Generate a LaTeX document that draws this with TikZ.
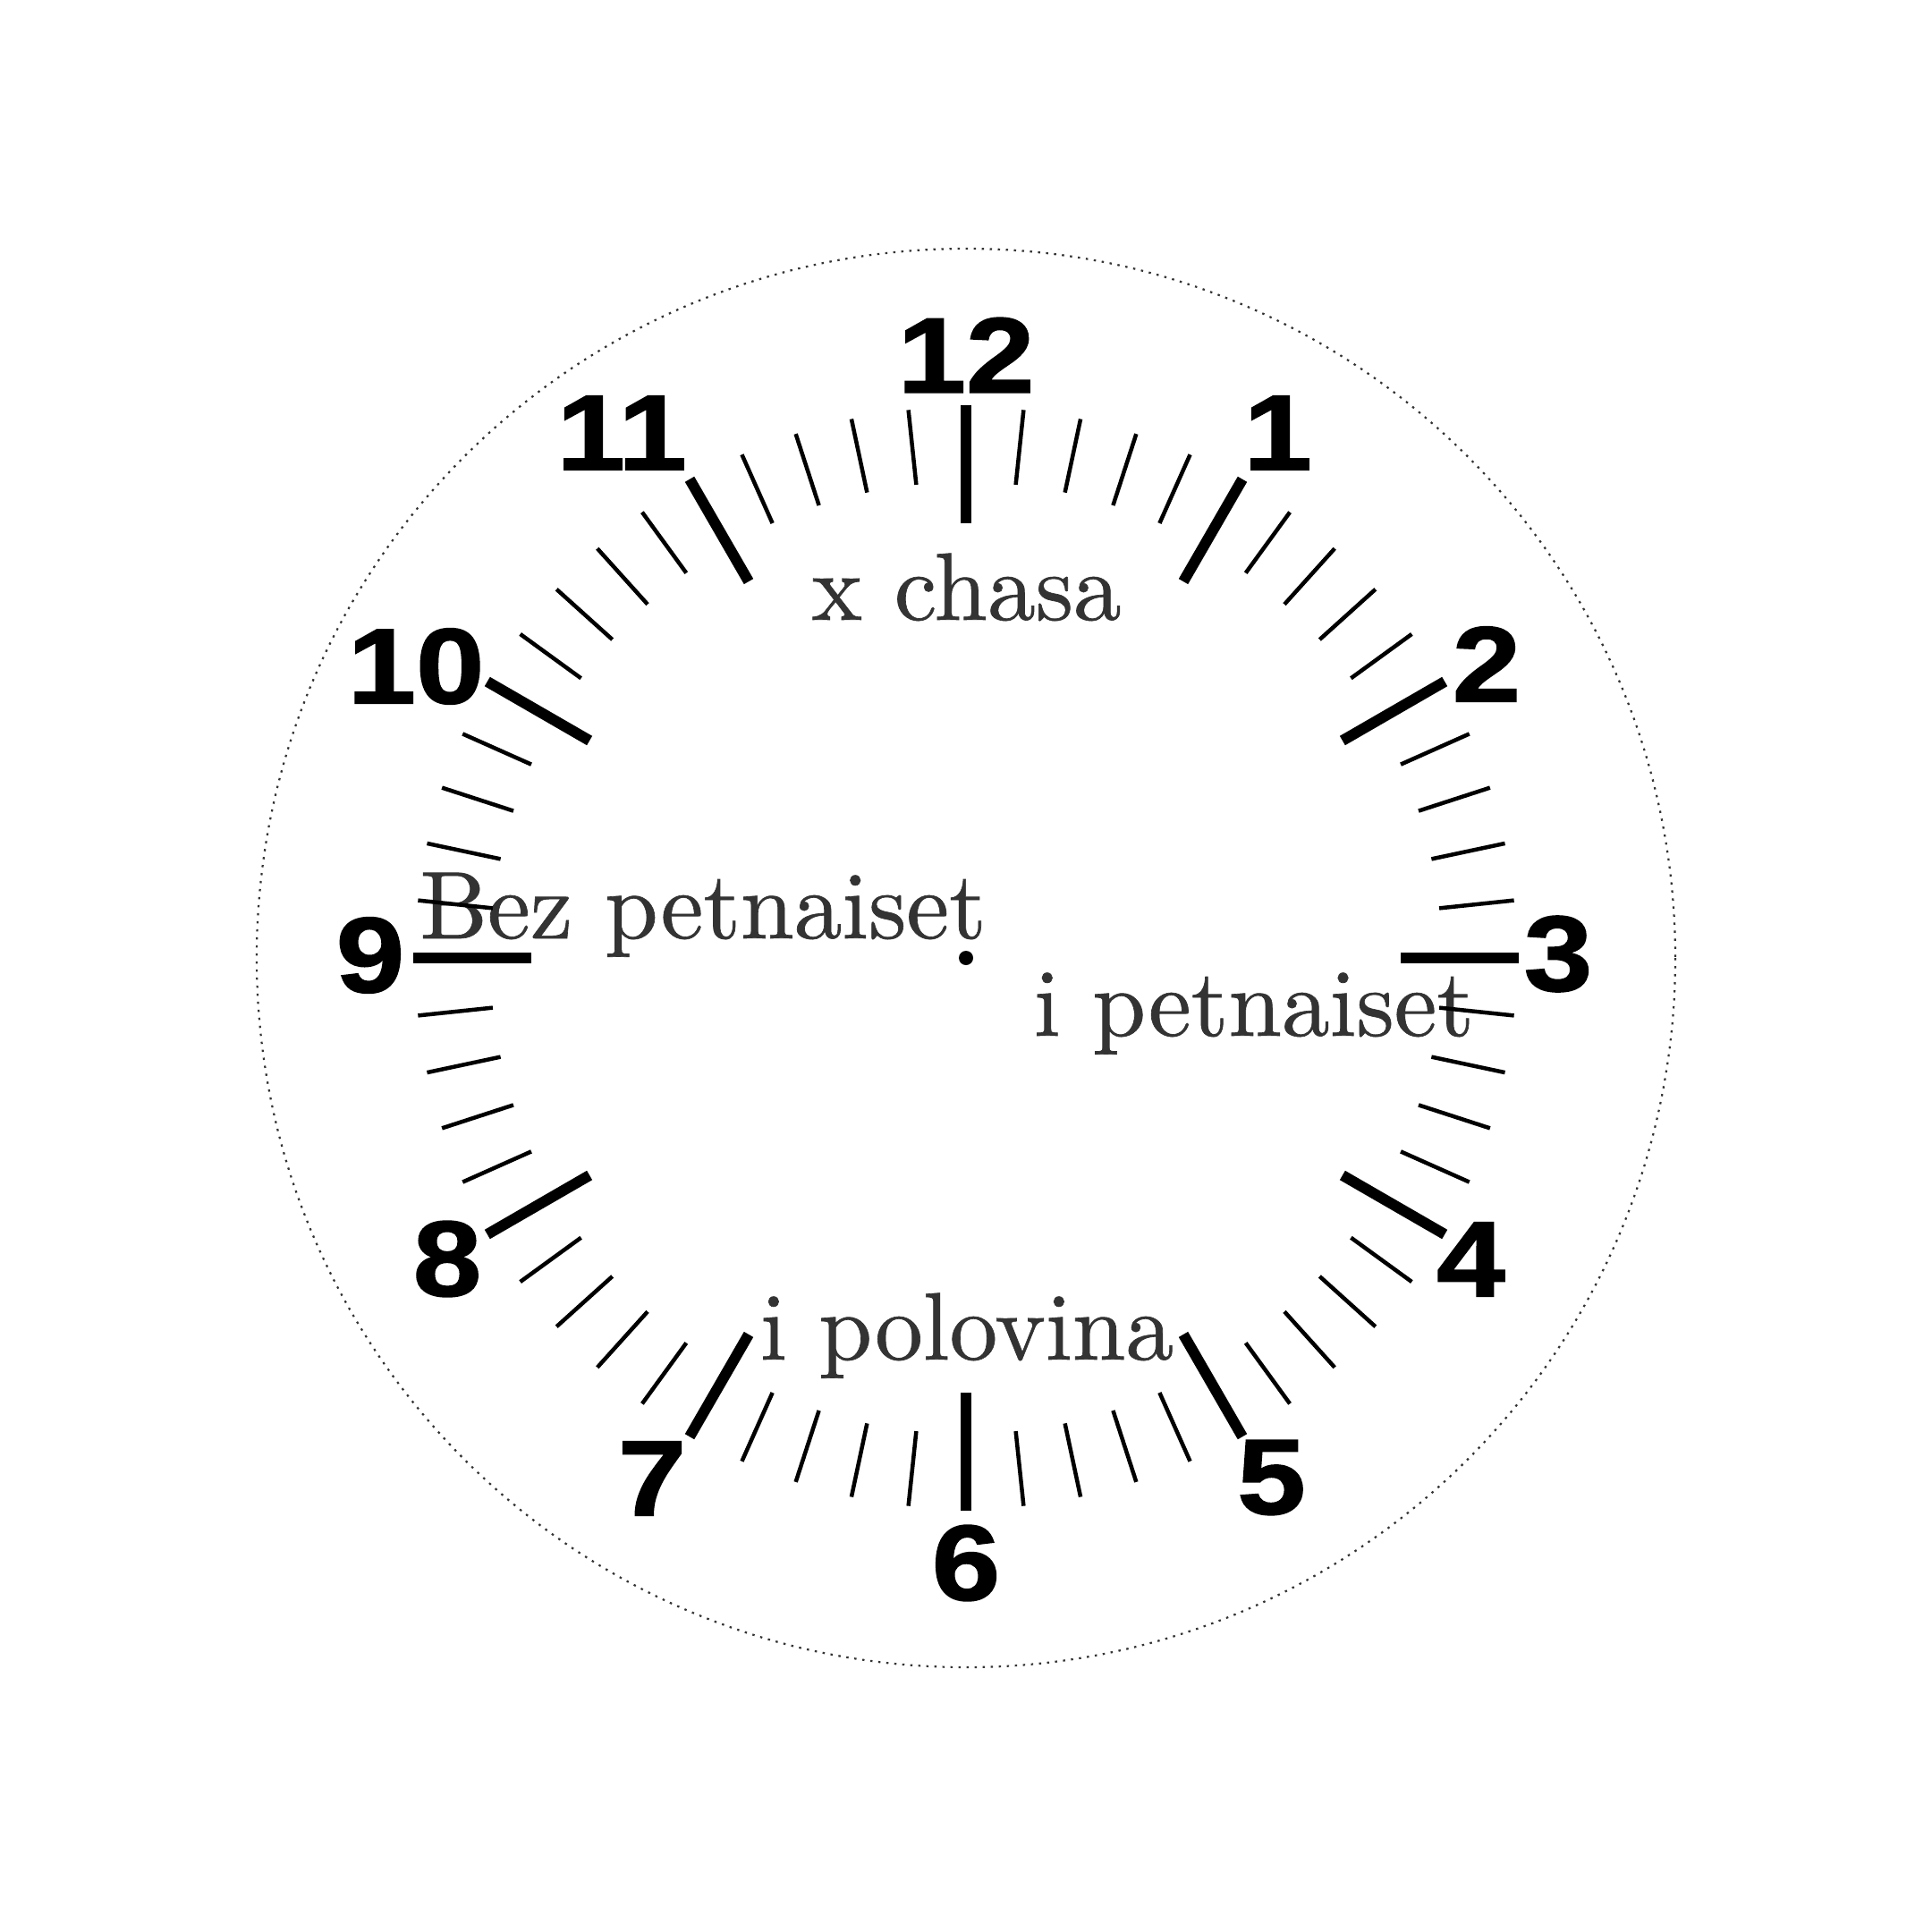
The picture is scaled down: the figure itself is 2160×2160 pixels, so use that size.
\documentclass[tikz,border=0pt]{standalone}
\usepackage{fontspec}
\newfontfamily\numfont{Liberation Sans Bold}[FakeStretch=1.15,FakeBold=1.5]
\newfontfamily\phrasefont{lmroman10-regular.otf}[FakeBold=0.6]
\definecolor{txtgray}{HTML}{333333}
\begin{document}
\begin{tikzpicture}[x=0.01cm,y=-0.01cm,
  hourtick/.style={line width=0.12cm,line cap=butt,black},
  minortick/.style={line width=0.045cm,line cap=butt,black},
  rim/.style={line width=0.022cm,black!80,dash pattern=on 0.025cm off 0.065cm},
  hournum/.style={inner sep=0pt,anchor=center,font=\numfont\fontsize{34}{40}\selectfont},
  phrase/.style={inner sep=0pt,anchor=base,text=txtgray,font=\phrasefont\fontsize{30.5}{36}\selectfont}]
\useasboundingbox (0,0) rectangle (2160,2160);
\fill[white] (0,0) rectangle (2160,2160);
\coordinate (c) at (1080,1071);
\draw[rim] (c) circle[radius=793];
% phrases
\node[phrase] (xchasa) at (1080.5,693) {x chasa};
\node[phrase] (bez) at (786,1049) {Bez petnaiset};
\node[phrase] (ipet) at (1402,1158) {i petnaiset};
\node[phrase] (ipol) at (1081,1520) {i polovina};
% ticks
\foreach \h in {0,...,11}{
  \pgfmathsetmacro\a{30*\h}
  \draw[hourtick] ({1080+486*sin(\a)},{1071-486*cos(\a)}) -- ({1080+618*sin(\a)},{1071-618*cos(\a)});
  \foreach \k in {1,2,3,4}{
    \pgfmathsetmacro\b{30*\h+6*\k}
    \draw[minortick] ({1080+532*sin(\b)},{1071-532*cos(\b)}) -- ({1080+616*sin(\b)},{1071-616*cos(\b)});
  }
}
\fill[black] (c) circle[radius=8];
% numbers
\node[hournum] (n12) at (1080,397) {12};
\node[hournum] (n1) at (1428.5,484) {1};
\node[hournum] (n2) at (1662,742.5) {2};
\node[hournum] (n3) at (1742,1066.5) {3};
\node[hournum] (n4) at (1644.5,1408) {4};
\node[hournum] (n5) at (1421.5,1652) {5};
\node[hournum] (n6) at (1080,1747.5) {6};
\node[hournum] (n7) at (729,1653) {7};
\node[hournum] (n8) at (500,1407.5) {8};
\node[hournum] (n9) at (414,1068) {9};
\node[hournum] (n10) at (465,745) {10};
\node[hournum] (n11) at (695,484) {11};
\end{tikzpicture}
\end{document}
